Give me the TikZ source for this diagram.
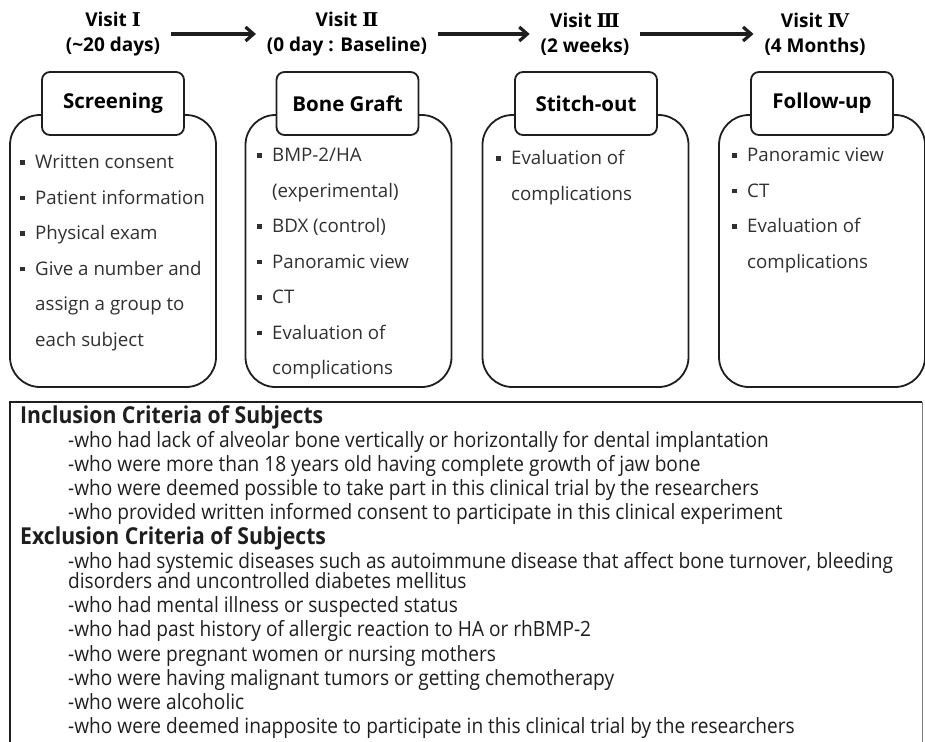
\documentclass[tikz,border=0pt]{standalone}
\usepackage{fontspec}
\setmainfont{Open Sans}
\newfontfamily\condfont[FakeStretch=0.91]{Open Sans}
\newfontfamily\numfont{DejaVu Serif}
\usetikzlibrary{arrows.meta}
\definecolor{boxline}{HTML}{1E1E1E}
\definecolor{itemtext}{HTML}{303030}
\newcommand\bul{\makebox[15pt][l]{\rule[4pt]{4.5pt}{4.5pt}}}
\newcommand\ind{\hspace*{15pt}}
\newcommand\dash{\hspace*{48pt}}
\begin{document}
\begin{tikzpicture}[x=1pt,y=-1pt,
    head/.style={font=\bfseries\fontsize{19}{25}\selectfont, align=center, inner sep=0pt, outer sep=11pt},
    flow/.style={-{Straight Barb[length=8pt,width=14pt]}, line width=3.2pt, draw=boxline},
    bigbox/.style={draw=boxline, line width=1.8pt, rounded corners=30pt, minimum width=206pt, minimum height=272pt, inner sep=0pt},
    titlebox/.style={draw=boxline, fill=white, line width=1.8pt, rounded corners=8pt, minimum width=142pt, minimum height=63pt, font=\bfseries\fontsize{20.5}{24}\selectfont},
    items/.style={anchor=north west, align=left, inner sep=0pt, text=itemtext, font=\fontsize{18.7}{35.5}\selectfont}]
        \useasboundingbox (0,0) rectangle (925,741);
        \clip (0,0) rectangle (925,741);
        %% Visits
        \node[head] (v1) at (113,34) {Visit {\numfont Ⅰ}\\(\textasciitilde20 days)};
        \node[head] (v2) at (347,34) {Visit {\numfont Ⅱ}\\(0 day : Baseline)};
        \node[head] (v3) at (585,34) {Visit {\numfont Ⅲ}\\(2 weeks)};
        \node[head] (v4) at (815,34) {Visit {\numfont Ⅳ}\\(4 Months)};
        \draw[flow] (v1) -- (v2);
        \draw[flow] (v2) -- (v3);
        \draw[flow] (v3) -- (v4);
        %% Boxes
        \node[bigbox] (scr)    at (113,251)   {};
        \node[bigbox] (graft)  at (348.5,251) {};
        \node[bigbox] (stitch) at (585.5,251) {};
        \node[bigbox] (follow) at (822,251)   {};
        \node[titlebox] (scrT)    at (113,103.5)   {Screening};
        \node[titlebox] (graftT)  at (347.5,103.5) {Bone Graft};
        \node[titlebox] (stitchT) at (586,103.5)   {Stitch-out};
        \node[titlebox] (followT) at (822,103.5)   {Follow-up};
        %% Items
        \node[items] (scrL) at (20,155) {\bul Written consent\\ \bul Patient information\\ \bul Physical exam\\
            \bul Give a number and\\ \ind assign a group to\\ \ind each subject};
        \node[items] (graftL) at (257,148) {\bul BMP-2/HA\\ \ind (experimental)\\ \bul BDX (control)\\
            \bul Panoramic view\\ \bul CT\\ \bul Evaluation of\\ \ind complications};
        \node[items] (stitchL) at (496,150) {\bul Evaluation of\\ \ind complications};
        \node[items] (followL) at (732,148) {\bul Panoramic view\\ \bul CT\\ \bul Evaluation of\\ \ind complications};
        %% Criteria
        \draw[line width=1.8pt, boxline] (10,760) -- (10,402) -- (922,402);
        \draw[line width=0.8pt, gray] (922,402) -- (922,760);
        \node[anchor=north west, align=left, inner sep=0pt, text=boxline, font=\condfont\fontsize{21}{24.2}\selectfont] (crit) at (20,405) {%
            {\bfseries\fontsize{23.3}{24.2}\selectfont Inclusion Criteria of Subjects}\\
            \dash-who had lack of alveolar bone vertically or horizontally for dental implantation\\
            \dash-who were more than 18 years old having complete growth of jaw bone\\
            \dash-who were deemed possible to take part in this clinical trial by the researchers\\
            \dash-who provided written informed consent to participate in this clinical experiment\\
            {\bfseries\fontsize{23.3}{24.2}\selectfont Exclusion Criteria of Subjects}\\
            \dash-who had systemic diseases such as autoimmune disease that affect bone turnover, bleeding\\[-4pt]
            \dash disorders and uncontrolled diabetes mellitus\\
            \dash-who had mental illness or suspected status\\
            \dash-who had past history of allergic reaction to HA or rhBMP-2\\
            \dash-who were pregnant women or nursing mothers\\
            \dash-who were having malignant tumors or getting chemotherapy\\
            \dash-who were alcoholic\\
            \dash-who were deemed inapposite to participate in this clinical trial by the researchers};
\end{tikzpicture}
\end{document}
